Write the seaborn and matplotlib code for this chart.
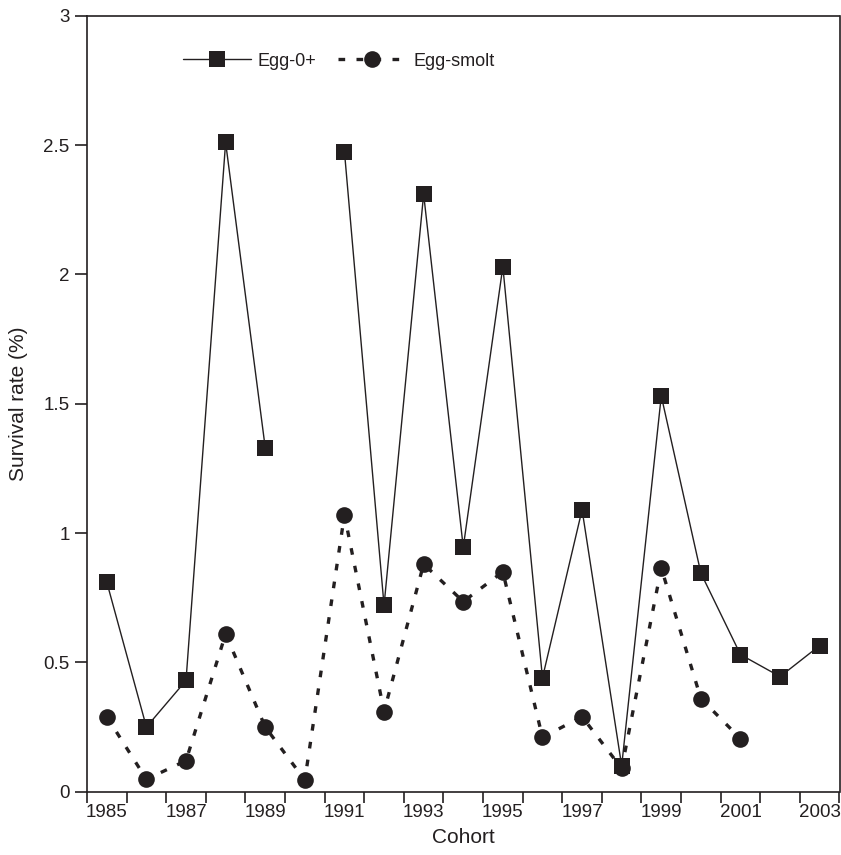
import numpy as np
import pandas as pd
import matplotlib
matplotlib.use("Agg")
import matplotlib.pyplot as plt
from matplotlib.lines import Line2D
import seaborn as sns

# ---- data ----
years = [1985, 1986, 1987, 1988, 1989, 1990, 1991, 1992, 1993, 1994,
         1995, 1996, 1997, 1998, 1999, 2000, 2001, 2002, 2003]
egg_0plus = [0.81, 0.25, 0.43, 2.51, 1.33, np.nan, 2.475, 0.72, 2.31, 0.945,
             2.03, 0.44, 1.09, 0.10, 1.53, 0.845, 0.53, 0.445, 0.565]
egg_smolt = [0.29, 0.048, 0.12, 0.61, 0.25, 0.045, 1.07, 0.31, 0.88, 0.735,
             0.85, 0.21, 0.29, 0.09, 0.865, 0.36, 0.205, np.nan, np.nan]
tick_years = [1985, 1987, 1989, 1991, 1993, 1995, 1997, 1999, 2001, 2003]
y_ticks = [0, 0.5, 1, 1.5, 2, 2.5, 3]
y_ticklabels = ["0", "0.5", "1", "1.5", "2", "2.5", "3"]


def segments(xs, ys):
    """Split a series into contiguous runs (gaps at missing values)."""
    rows, seg = [], 0
    prev_nan = False
    for x, y in zip(xs, ys):
        if np.isnan(y):
            if not prev_nan:
                seg += 1
            prev_nan = True
            continue
        prev_nan = False
        rows.append((x, y, seg))
    return pd.DataFrame(rows, columns=["year", "value", "seg"])


df0 = segments(years, egg_0plus)
dfs = segments(years, egg_smolt)

sns.set_style("ticks")
plt.rcParams["font.family"] = ["Liberation Sans", "DejaVu Sans"]

ink = "#231f20"
fig = plt.figure(figsize=(8.41, 8.55), dpi=100)
ax = fig.add_axes([87 / 841, 1 - 791.7 / 855, 752.5 / 841, 776 / 855])

sns.lineplot(data=dfs, x="year", y="value", units="seg", estimator=None,
             ax=ax, color=ink, lw=2.4, dashes=False, linestyle=(0, (2.0, 3.4)),
             marker="o", markersize=12, markeredgewidth=0, markerfacecolor=ink,
             legend=False, zorder=3)
sns.lineplot(data=df0, x="year", y="value", units="seg", estimator=None,
             ax=ax, color=ink, lw=1.0, marker="s", markersize=11,
             markeredgewidth=0, markerfacecolor=ink, legend=False, zorder=4)

ax.set_xlim(1984.5, 2003.5)
ax.set_ylim(0, 3)

ax.set_xticks(tick_years)
ax.set_xticklabels([str(t) for t in tick_years])
ax.set_xticks(np.arange(1984.5, 2004, 1.0), minor=True)
ax.tick_params(axis="x", which="major", length=0, labelsize=13.5, pad=9, colors=ink)
ax.tick_params(axis="x", which="minor", length=8, width=1.2, color=ink)
ax.set_yticks(y_ticks)
ax.set_yticklabels(y_ticklabels)
ax.tick_params(axis="y", which="major", length=9, width=1.2, labelsize=13.5, colors=ink)

for s in ax.spines.values():
    s.set_linewidth(1.2)
    s.set_color(ink)

ax.set_xlabel("Cohort", fontsize=15, color=ink, labelpad=5)
ax.set_ylabel("Survival rate (%)", fontsize=15, color=ink, labelpad=11)

handles = [
    Line2D([], [], color=ink, lw=1.0, marker="s", markersize=11,
           markeredgewidth=0, markerfacecolor=ink),
    Line2D([], [], color=ink, lw=2.4, linestyle=(0, (2.0, 3.4)), marker="o",
           markersize=12, markeredgewidth=0, markerfacecolor=ink),
]
leg = ax.legend(handles, ["Egg-0+", "Egg-smolt"], ncol=2, frameon=False,
                loc="center left", bbox_to_anchor=((183 - 87) / 752.5, (791.7 - 61) / 776),
                borderpad=0, borderaxespad=0, fontsize=13, handlelength=3.75,
                handletextpad=0.4, columnspacing=1.2)
for t in leg.get_texts():
    t.set_color(ink)

fig.savefig("out.png", dpi=100)
